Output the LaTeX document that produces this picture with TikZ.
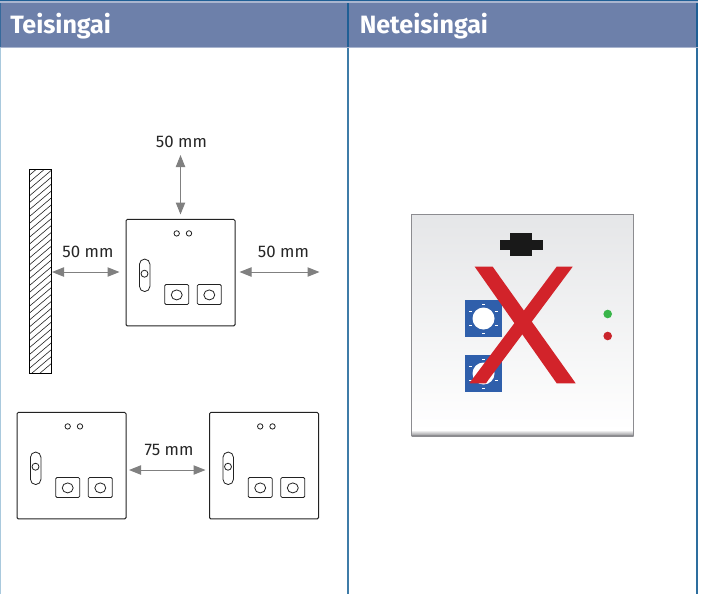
\documentclass[tikz,border=0pt]{standalone}
\usepackage{fontspec}
\setmainfont{Fira Sans}
\usetikzlibrary{arrows.meta}
\definecolor{headblue}{HTML}{6D80AA}
\definecolor{headlite}{HTML}{A9B5CF}
\definecolor{topdark}{HTML}{1F5F95}
\definecolor{lineleft}{HTML}{A9C9DD}
\definecolor{linemid}{HTML}{3F7CA8}
\definecolor{lineright}{HTML}{2D6E9E}
\definecolor{arrowgray}{HTML}{808080}
\definecolor{inkline}{HTML}{222222}
\definecolor{panelrim}{HTML}{8C8C90}
\definecolor{paneltop}{HTML}{E5E6E8}
\definecolor{blueblock}{HTML}{2F5FAB}
\definecolor{redx}{HTML}{D2232A}
\definecolor{ledgreen}{HTML}{39B54A}
\definecolor{ledred}{HTML}{C9252C}
\tikzset{
  x=0.75pt,y=-0.75pt,
  headtext/.style={font=\fontsize{18.8}{20}\selectfont\bfseries,text=white,inner sep=0pt,anchor=base west},
  dimtext/.style={font=\fontsize{12.6}{14}\selectfont,text=black!85,inner sep=0pt,anchor=base},
  dimarrow/.style={draw=arrowgray,line width=0.75pt,{Triangle[length=9pt,width=7pt,fill=arrowgray]}-{Triangle[length=9pt,width=7pt,fill=arrowgray]}},
  unitbox/.style={draw=inkline,line width=0.75pt,rounded corners=1pt,minimum width=81.75pt,minimum height=79.9pt,inner sep=0pt},
  part/.style={draw=inkline,line width=0.6pt},
  socket/.style={draw=inkline,line width=0.6pt,rounded corners=1pt},
  notch/.style={white,line width=0.6pt},
  unit/.pic={
    \draw[part] (-3.8,-39.3) circle[radius=2.7];
    \draw[part] (8.5,-39.3) circle[radius=2.7];
    \draw[part,rounded corners=3.8pt] (-41,-13.6) rectangle (-30.6,18.8);
    \draw[part] (-36,1) circle[radius=3.5];
    \draw[socket] (-15.8,11.8) rectangle (8.2,31.8);
    \draw[socket] (16.8,11.8) rectangle (40.8,31.8);
    \draw[part] (-3.8,22.2) ellipse[x radius=5.5,y radius=5];
    \draw[part] (28.8,22.2) ellipse[x radius=5.5,y radius=5];
  },
  blueblock/.pic={
    \fill[blueblock] (-18.5,-18.5) rectangle (18.5,18.5);
    \fill[white] (0,0) circle[radius=11];
    \foreach \a in {30,90,150,210,270,330}
      \draw[notch] (\a:14.5) ++(-1.5,0) -- ++(3,0);
  }
}
\begin{document}
\begin{tikzpicture}
\useasboundingbox (0,0) rectangle (702,594);
\fill[white] (0,0) rectangle (702,594);
% columns
\draw[lineleft,line width=1.1pt] (0.7,47) -- (0.7,594);
\draw[linemid,line width=1.1pt] (348,47) -- (348,594);
\draw[lineright,line width=1.1pt] (697,47) -- (697,594);
% header
\fill[headblue] (0,2) rectangle (697.5,47);
\fill[topdark] (0,0) rectangle (697.5,1.4);
\fill[headlite] (0,1.4) rectangle (697.5,2.8);
\fill[headlite] (0,47) rectangle (697.5,48.2);
\fill[topdark] (347,2.8) rectangle (349,47);
\fill[topdark] (696,2.8) rectangle (698,47);
\fill[topdark!70!headblue] (0,2.8) rectangle (1,47);
\node[headtext] (teisingai) at (10,33) {Teisingai};
\node[headtext] (neteisingai) at (359.5,33) {Neteisingai};
% wall
\begin{scope}
\clip (29,169) rectangle (51.5,373);
\foreach \k in {0,1,...,31}
  \draw[inkline,line width=0.45pt] (25,{172+\k*6.9}) -- (55,{172+\k*6.9-30*0.85});
\end{scope}
\draw[black,line width=0.7pt] (29,169) rectangle (51.5,373);
\coordinate (wallface) at (52,272);
% units
\node[unitbox] (unitA) at (180.5,272.7) {};
\node[unitbox] (unitB) at (71.5,465.7) {};
\node[unitbox] (unitC) at (264,465.7) {};
\pic at (unitA.center) {unit};
\pic at (unitB.center) {unit};
\pic at (unitC.center) {unit};
% dimension ends
\coordinate (upTop) at (180.5,155);
\coordinate (upBot) at (180.5,214.5);
\coordinate (leftEnd) at (119.5,272);
\coordinate (rightStart) at (239.5,272);
\coordinate (rightEnd) at (319.5,272);
\coordinate (gapL) at (129,470);
\coordinate (gapR) at (205.5,470);
\draw[dimarrow] (upTop) -- (upBot);
\draw[dimarrow] (wallface) -- (leftEnd);
\draw[dimarrow] (rightStart) -- (rightEnd);
\draw[dimarrow] (gapL) -- (gapR);
\node[dimtext] (dimTop) at (181.5,147) {50 mm};
\node[dimtext] (dimLeft) at (88,257) {50 mm};
\node[dimtext] (dimRight) at (283.5,257) {50 mm};
\node[dimtext] (dimGap) at (169,455) {75 mm};
% right panel
\shade[top color=paneltop,bottom color=white] (411.5,214.5) rectangle (633.5,431);
\shade[top color=white,bottom color=panelrim] (411.5,430) rectangle (633.5,436);
\draw[panelrim,line width=1.3pt] (411.5,214.5) rectangle (633.5,435.5);
\fill[black!90] (500,240) rectangle (543,250);
\fill[black!90] (510,233) rectangle (532,256);
\pic at (483.5,318.5) {blueblock};
\pic at (483.5,373.5) {blueblock};
\fill[ledgreen] (607.7,314) circle[radius=4.3];
\fill[ledred] (607.7,336) circle[radius=4.3];
\fill[redx] (474.7,266.7) -- (492.7,266.7) -- (575.7,383.3) -- (556.7,383.3) -- cycle;
\fill[redx] (556.7,266.7) -- (572.7,266.7) -- (489,379) -- (486,383.3) -- (469.3,383.3) -- cycle;
\end{tikzpicture}
\end{document}
